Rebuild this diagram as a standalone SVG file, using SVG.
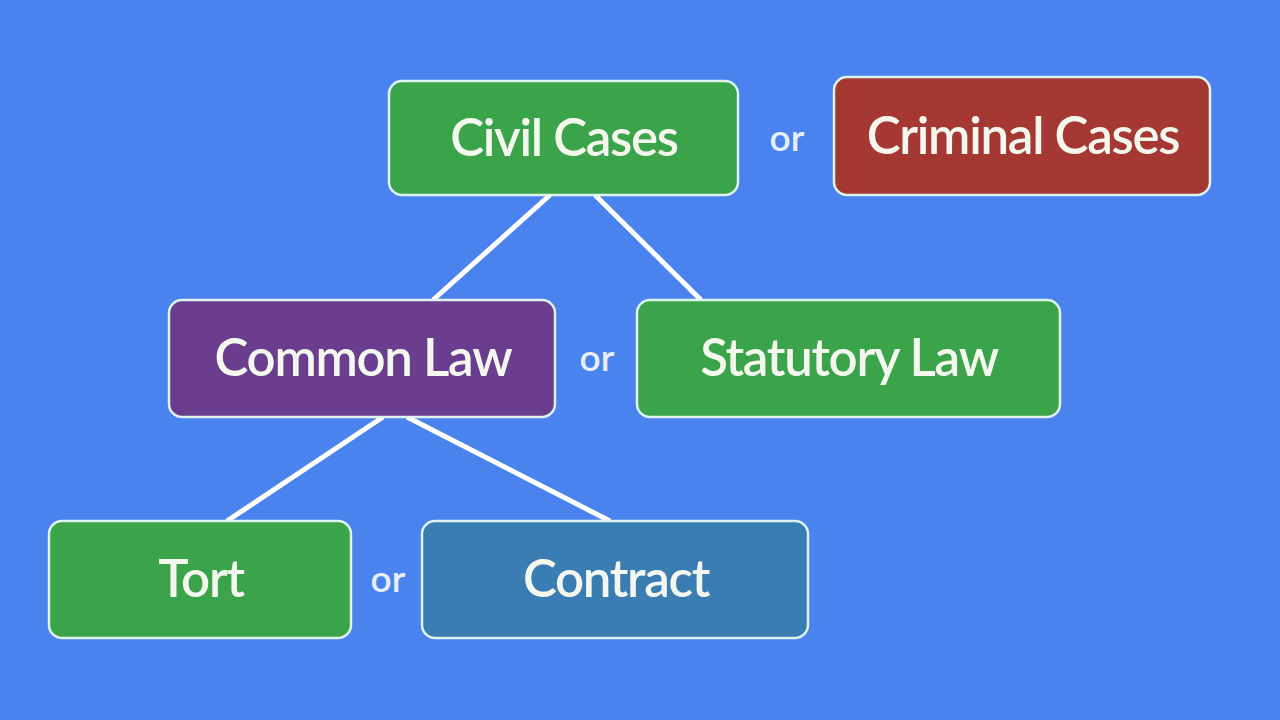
<svg xmlns="http://www.w3.org/2000/svg" width="1280" height="720" viewBox="0 0 1280 720">
<style>
.box{stroke:#dff3ee;stroke-width:2.5}
.green{fill:#3ba34a}
.red{fill:#a63834}
.purple{fill:#6a3d8e}
.teal{fill:#3a7db3}
.lbl{font-family:Lato,"Open Sans",sans-serif;font-size:51px;font-weight:600;letter-spacing:-1.3px;fill:#f4f7ee;text-anchor:middle}
.or{font-family:Lato,"Open Sans",sans-serif;font-size:37px;font-weight:600;fill:#e8eefc;text-anchor:middle}
.conn line{stroke:#ffffff;stroke-width:5}
</style>
<rect width="1280" height="720" fill="#4a83ed"/>
<g id="connectors" class="conn">
<line x1="550" y1="195" x2="433" y2="300"/>
<line x1="595" y1="195" x2="701" y2="300"/>
<line x1="383" y1="417" x2="227" y2="521"/>
<line x1="407" y1="417" x2="610" y2="521"/>
</g>
<g id="civil"><rect class="box green" x="389" y="81" width="349" height="114" rx="13"/><text class="lbl" x="564" y="156">Civil Cases</text></g>
<g id="criminal"><rect class="box red" x="834" y="77" width="376" height="118" rx="13"/><text class="lbl" x="1023" y="154">Criminal Cases</text></g>
<g id="common"><rect class="box purple" x="169" y="300" width="386" height="117" rx="13"/><text class="lbl" x="363" y="376">Common Law</text></g>
<g id="statutory"><rect class="box green" x="637" y="300" width="423" height="117" rx="13"/><text class="lbl" x="849" y="376">Statutory Law</text></g>
<g id="tort"><rect class="box green" x="49" y="521" width="302" height="117" rx="13"/><text class="lbl" x="201" y="597">Tort</text></g>
<g id="contract"><rect class="box teal" x="422" y="521" width="386" height="117" rx="13"/><text class="lbl" x="616" y="597">Contract</text></g>
<g id="or-labels">
<text class="or" x="787" y="151">or</text>
<text class="or" x="597" y="371">or</text>
<text class="or" x="388" y="592">or</text>
</g>
</svg>
